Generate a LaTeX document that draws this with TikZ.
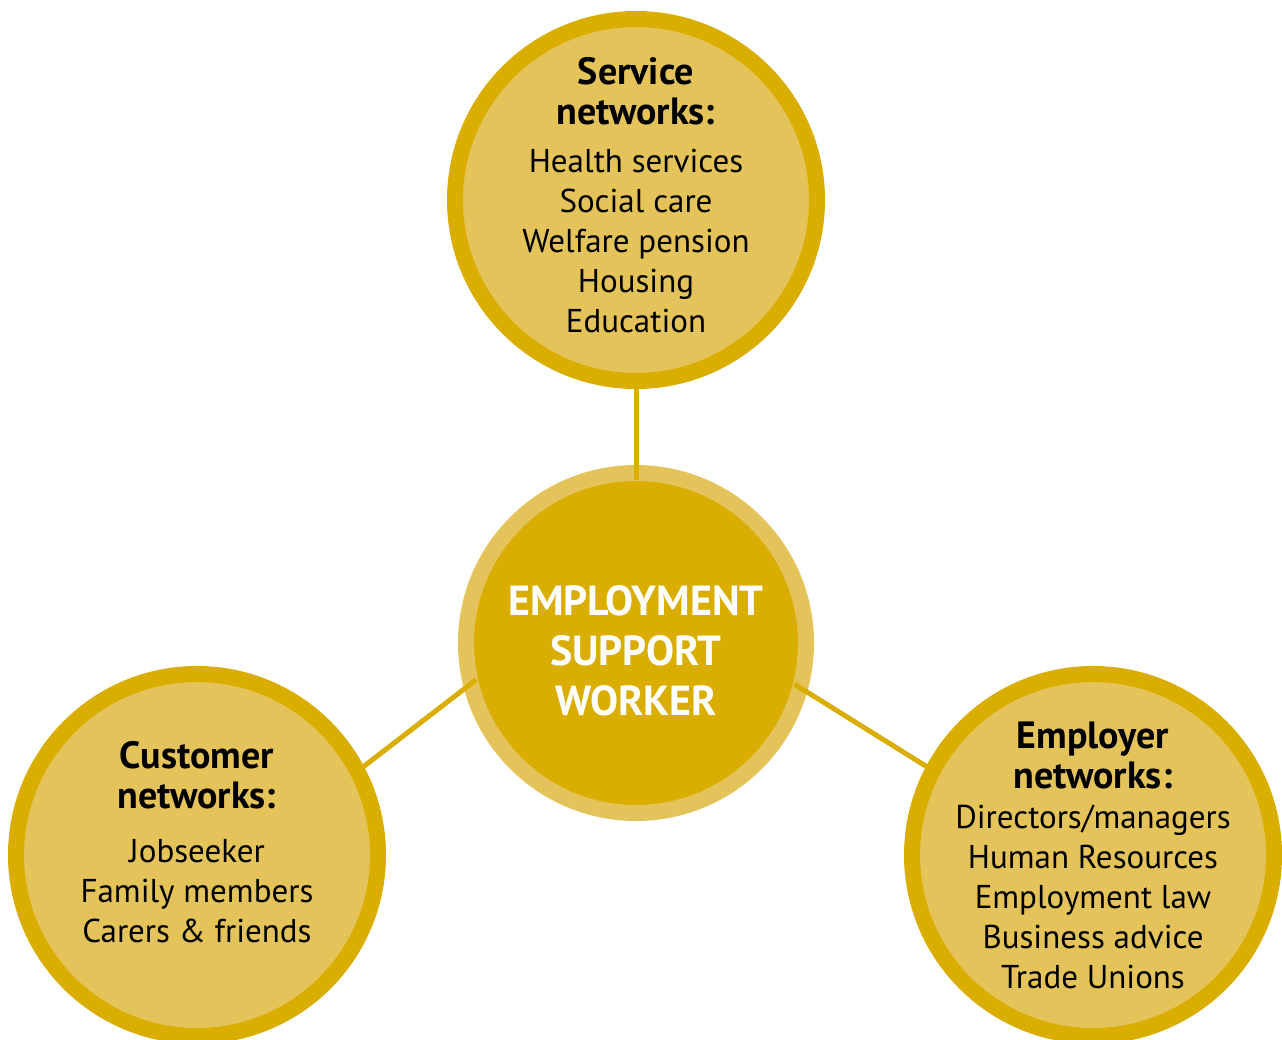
\documentclass[tikz,border=0pt]{standalone}
\usepackage{fontspec}
\setmainfont{PT Sans}
\definecolor{gold}{RGB}{217,174,0}
\definecolor{lightgold}{RGB}{228,196,90}
\newcommand\nettitle[1]{{\fontsize{38}{40}\selectfont\bfseries #1}}
\begin{document}
\begin{tikzpicture}[x=1pt,y=-1pt,
  net/.style={circle,draw=gold,fill=lightgold,line width=16pt,minimum size=362pt,inner sep=-20pt,align=center,font=\fontsize{33}{40}\selectfont},
  hub/.style={circle,draw=lightgold,fill=gold,line width=16pt,minimum size=340pt,inner sep=0pt,align=center,text=white,font=\fontsize{42}{50}\selectfont\bfseries},
  link/.style={draw=gold,line width=5pt}]
\useasboundingbox (0,0) rectangle (1282,1039);
\node[net] (svc) at (636,200) {\nettitle{Service}\\\nettitle{networks:}\\[8pt]Health services\\Social care\\Welfare pension\\Housing\\Education\\[-30pt]};
\node[hub] (hub) at (636,643) {\rule{0pt}{46pt}EMPLOYMENT\\SUPPORT\\WORKER};
\node[net] (cust) at (197,855) {\nettitle{Customer}\\\nettitle{networks:}\\[14pt]Jobseeker\\Family members\\Carers \& friends\\[-14pt]};
\node[net] (empl) at (1093,855) {\nettitle{Employer}\\\nettitle{networks:}\\Directors/managers\\Human Resources\\Employment law\\Business advice\\Trade Unions};
\draw[link,shorten >=-15pt] (svc.south) -- (hub.north);
\draw[link,shorten >=-15pt] (cust.28.6) -- (hub.195.5);
\draw[link,shorten <=-15pt] (hub.-16.4) -- (empl.152.2);
\end{tikzpicture}
\end{document}
